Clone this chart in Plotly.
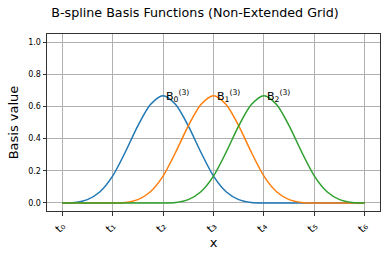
import plotly.graph_objects as go

# knot positions and tick labels
knots = [0, 1, 2, 3, 4, 5, 6]
tick_labels = ["t₀", "t₁", "t₂", "t₃", "t₄", "t₅", "t₆"]

# sample positions (read every quarter knot span)
x_vals = [i * 0.25 for i in range(25)]

# values
b0 = [0, 0.003, 0.021, 0.070, 0.167, 0.315, 0.479, 0.612, 0.667, 0.612, 0.479, 0.315,
      0.167, 0.070, 0.021, 0.003, 0, 0, 0, 0, 0, 0, 0, 0, 0]
b1 = [0, 0, 0, 0, 0, 0.003, 0.021, 0.070, 0.167, 0.315, 0.479, 0.612, 0.667, 0.612,
      0.479, 0.315, 0.167, 0.070, 0.021, 0.003, 0, 0, 0, 0, 0]
b2 = [0, 0, 0, 0, 0, 0, 0, 0, 0, 0.003, 0.021, 0.070, 0.167, 0.315, 0.479, 0.612,
      0.667, 0.612, 0.479, 0.315, 0.167, 0.070, 0.021, 0.003, 0]

series = [("B0", b0, "#1f77b4", 2, "B<sub>0</sub><sup>(3)</sup>"),
          ("B1", b1, "#ff7f0e", 3, "B<sub>1</sub><sup>(3)</sup>"),
          ("B2", b2, "#2ca02c", 4, "B<sub>2</sub><sup>(3)</sup>")]

FONT = "DejaVu Sans"
fig = go.Figure()
for name, ys, col, pk, lab in series:
    fig.add_trace(go.Scatter(x=x_vals, y=ys, mode="lines", name=name,
                             line=dict(color=col, width=1.5, shape="spline", smoothing=0.8)))
    fig.add_annotation(x=pk, y=max(ys), text=lab, showarrow=False, xanchor="left",
                       yanchor="middle", xshift=1, font=dict(family=FONT, size=11, color="black"))

axis_common = dict(showgrid=True, gridcolor="#b0b0b0", gridwidth=0.8, showline=True,
                   linecolor="#333333", linewidth=1, mirror=True, ticks="outside",
                   ticklen=3.5, tickcolor="#333333", zeroline=False)

fig.update_xaxes(range=[-0.3, 6.3], tickvals=knots, ticktext=tick_labels, tickangle=-45,
                 tickfont=dict(family=FONT, size=11, color="black"),
                 title=dict(text="x", font=dict(family=FONT, size=13, color="black"), standoff=2),
                 **axis_common)
fig.update_yaxes(range=[-0.05, 1.05], tickvals=[0, 0.2, 0.4, 0.6, 0.8, 1.0], tickformat=".1f",
                 tickfont=dict(family=FONT, size=8, color="black"),
                 title=dict(text="Basis value", font=dict(family=FONT, size=13, color="black"), standoff=6),
                 **axis_common)

fig.update_layout(width=390, height=260, margin=dict(l=47, r=10, t=34, b=49),
                  plot_bgcolor="white", paper_bgcolor="white", showlegend=False,
                  title=dict(text="B-spline Basis Functions (Non-Extended Grid)", x=0.5,
                             xanchor="center", y=0.95, yanchor="middle",
                             font=dict(family=FONT, size=12.7, color="black")))
fig.write_html("out.html", config={"displayModeBar": False},
               post_script="document.body.style.margin='0';")
